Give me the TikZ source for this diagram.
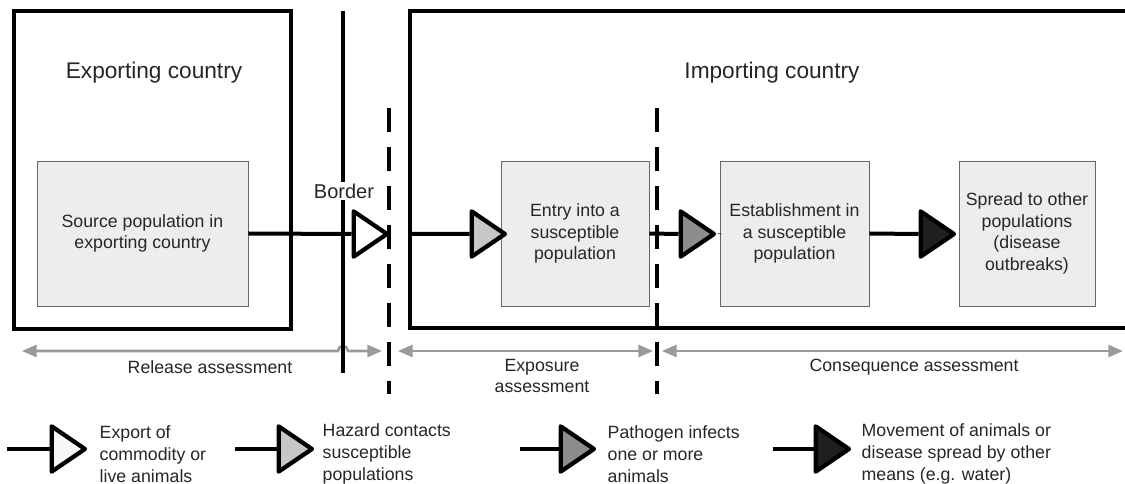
\documentclass[tikz,border=0pt]{standalone}
\usepackage{fontspec}
\setmainfont{Liberation Sans}
\usepackage{xcolor}
\usepackage{tikz}
\usetikzlibrary{
  arrows.meta,
  shapes.geometric
}
\definecolor{boxgray}{HTML}{EDEDED}
\definecolor{assessgray}{HTML}{9A9A9A}
\newcommand{\smalltxt}{\fontsize{13.3pt}{16.3pt}\selectfont}
\newcommand{\titletxt}{\fontsize{17pt}{20pt}\selectfont}
\tikzset{
  country/.style={line width=3pt},
  title/.style={font=\titletxt, text=black!85},
  popbox/.style={
    draw=black!60,
    fill=boxgray,
    line width=0.6pt,
    minimum height=108.75pt,
    inner sep=0pt,
    align=center,
    text=black!85,
    font=\smalltxt},
  flow/.style={line width=3pt},
  tri/.style={
    isosceles triangle,
    isosceles triangle stretches,
    draw,
    line width=3.2pt,
    line join=round,
    minimum width=34pt,
    minimum height=25pt,
    inner sep=0pt,
    anchor=west},
  divider/.style={line width=2.5pt, dash pattern=on 18pt off 11.25pt},
  assess/.style={
    draw=assessgray,
    line width=2pt,
    {Triangle[length=11pt,width=9pt]}-{Triangle[length=11pt,width=9pt]}},
  legend/.style={anchor=west, align=left, text=black!85, font=\smalltxt}
}

\begin{document}
\begin{tikzpicture}[x=0.75pt,y=-0.75pt]
  \useasboundingbox (0,0) rectangle (1125,484);
  % the two countries
  \draw[country] (14,11) rectangle (291,329);
  \draw[country] (1125,11) -- (410,11) -- (410,328) -- (1125,328);
  \node[title] (exp) at (154,73) {Exporting country};
  \node[title] (imp) at (772,73) {Importing country};
  % assessment ranges
  \coordinate (rela) at (22,351);
  \coordinate (hop) at (338,351);
  \coordinate (relb) at (382,351);
  \coordinate (expa) at (398,351);
  \coordinate (expb) at (653,351);
  \coordinate (cona) at (662,351);
  \coordinate (conb) at (1123,351);
  \draw[assess] (rela) -- (hop) arc[start angle=180, end angle=0, radius=3.75pt] -- (relb);
  \draw[assess] (expa) -- (expb);
  \draw[assess] (cona) -- (conb);
  \node[legend, anchor=center] (rel) at (210,367) {Release assessment};
  \node[legend, anchor=center, align=center] (expo) at (542,376) {Exposure\\assessment};
  \node[legend, anchor=center] (cons) at (914,367) {Consequence assessment};
  % border and dividers
  \draw[line width=2.5pt] (343,11) -- (343,373);
  \node[fill=white, inner sep=1.5pt, font=\fontsize{15pt}{18pt}\selectfont, text=black!85] (bord) at (344,191) {Border};
  \draw[divider] (389,108) -- (389,394);
  \draw[divider] (657,108) -- (657,394);
  % populations
  \node[popbox, minimum width=158.25pt] (src) at (142.5,233.5) {Source population in\\exporting country};
  \node[popbox, minimum width=111pt] (entry) at (575,233.5) {Entry into a\\susceptible\\population};
  \node[popbox, minimum width=111.75pt] (estab) at (794.5,233.5) {Establishment in\\a susceptible\\population};
  \node[popbox, minimum width=102pt] (spread) at (1027,233.5) {Spread to other\\populations\\(disease\\outbreaks)};
  % pathway steps
  \node[tri, fill=white] (t1) at (351.5,234) {};
  \node[tri, fill=black!22] (t2) at (469.5,234) {};
  \node[tri, fill=black!45] (t3) at (678.5,234) {};
  \node[tri, fill=black!88] (t4) at (918.5,234) {};
  \coordinate (imin) at (410,234);
  \draw[flow]
    (src.east) -- (t1.west)
    (imin) -- (t2.west)
    (entry.east) -- (t3.west)
    (t3.apex) -- (estab.west)
    (estab.east) -- (t4.west);
  % legend
  \coordinate (l1) at (7,449);
  \coordinate (l2) at (235,449);
  \coordinate (l3) at (520,449);
  \coordinate (l4) at (773,449);
  \node[tri, fill=black!3] (k1) at (49.5,449) {};
  \node[tri, fill=black!22] (k2) at (276.5,449) {};
  \node[tri, fill=black!45] (k3) at (558.5,449) {};
  \node[tri, fill=black!88] (k4) at (813.5,449) {};
  \draw[flow]
    (l1) -- (k1.west)
    (l2) -- (k2.west)
    (l3) -- (k3.west)
    (l4) -- (k4.west);
  \node[legend] (e1) at (95,454) {Export of\\commodity or\\live animals};
  \node[legend] (e2) at (318,454) {Hazard contacts\\susceptible\\populations};
  \node[legend] (e3) at (603,454) {Pathogen infects\\one or more\\animals};
  \node[legend] (e4) at (857,454) {Movement of animals or\\disease spread by other\\means (e.g. water)};
\end{tikzpicture}
\end{document}
